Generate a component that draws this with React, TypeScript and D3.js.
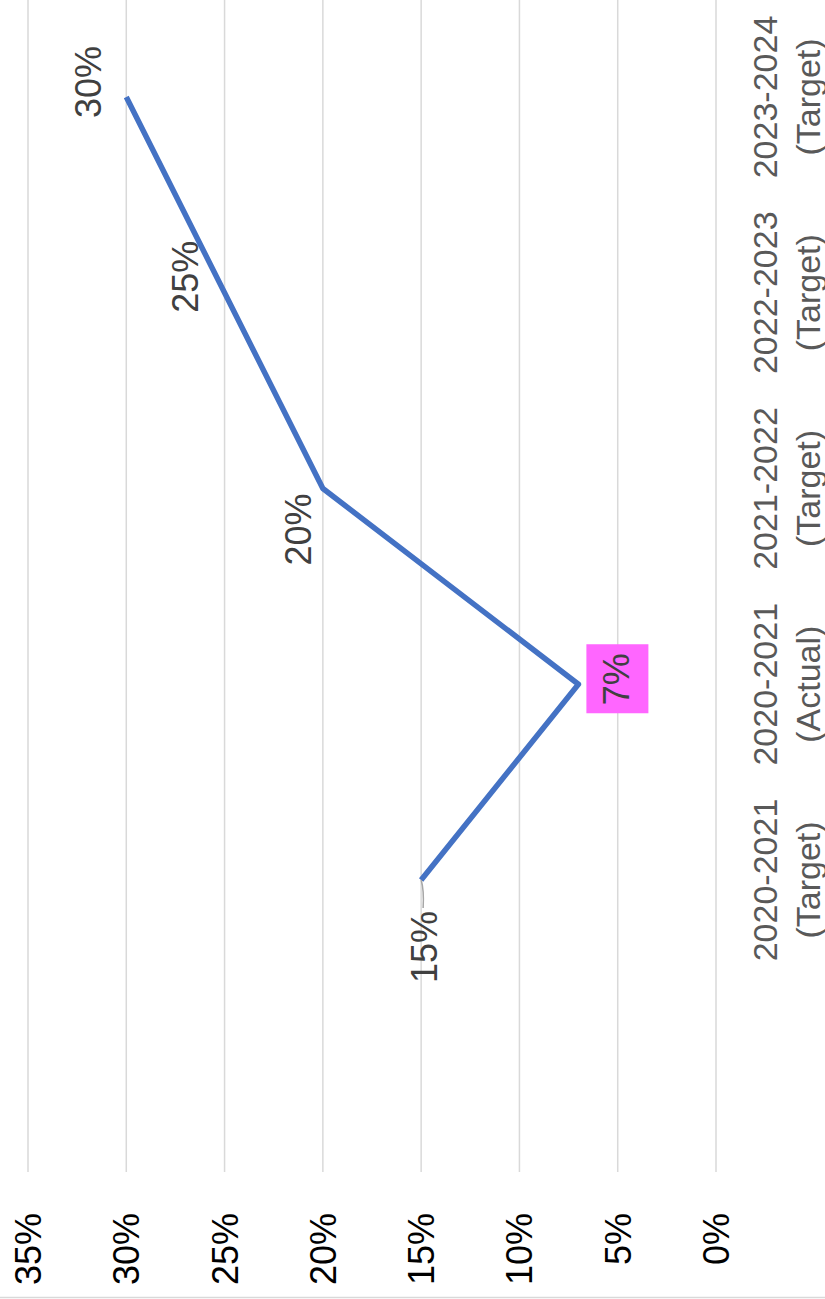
import React from 'react';
import * as d3 from 'd3';

// chart data
const categories = ['2020-2021 (Target)', '2020-2021 (Actual)', '2021-2022 (Target)', '2022-2023 (Target)', '2023-2024 (Target)'];
const categoryLines = [
  ['2020-2021', '(Target)'],
  ['2020-2021', '(Actual)'],
  ['2021-2022', '(Target)'],
  ['2022-2023', '(Target)'],
  ['2023-2024', '(Target)'],
];
const values = [0.15, 0.07, 0.2, 0.25, 0.3];
const valueTicks = [0, 0.05, 0.1, 0.15, 0.2, 0.25, 0.3, 0.35];
const highlighted = '2020-2021 (Actual)';

// where the data labels sit relative to their point (manually moved in the original)
const labelOffsets = [
  { dx: 4, dy: 67 },
  { dx: 39, dy: -5 },
  { dx: -24, dy: 41 },
  { dx: -39, dy: -16 },
  { dx: -37, dy: -15 },
];

const W = 825;
const H = 1299;

const App = () => {
  // the chart is drawn turned a quarter turn: values run right->left, categories bottom->top
  const x = d3.scaleLinear().domain([0, 0.35]).range([716, 28]);
  const y = d3.scalePoint<string>().domain(categories).range([880, 97]);
  const fmt = d3.format('.0%');

  const line = d3.line<number>()
    .x(d => x(d))
    .y((d, i) => y(categories[i]) as number);

  const font = 'Liberation Sans, Arial, sans-serif';

  return (
    <svg width={W} height={H} style={{ position: 'absolute', left: 0, top: 0, background: '#fff' }}>
      <rect width={W} height={H} fill="#fff" />

      {/* gridlines */}
      {valueTicks.map(t => (
        <line key={t} x1={x(t)} x2={x(t)} y1={0} y2={1172} stroke="#d9d9d9" strokeWidth={1.5} />
      ))}
      <line x1={0} x2={W} y1={1297.5} y2={1297.5} stroke="#d9d9d9" strokeWidth={1.5} />

      {/* value axis labels */}
      {valueTicks.map(t => (
        <text
          key={t}
          transform={`translate(${x(t) + 13},1213) rotate(-90)`}
          textAnchor="end"
          fontFamily={font}
          fontSize={36}
          fill="#000"
        >
          {fmt(t)}
        </text>
      ))}

      {/* category labels */}
      {categories.map((c, i) => (
        <text
          key={c}
          transform={`translate(777,${y(c)}) rotate(-90)`}
          textAnchor="middle"
          fontFamily={font}
          fontSize={34}
          fill="#595959"
        >
          <tspan x={0} y={0}>{categoryLines[i][0]}</tspan>
          <tspan x={0} y={43}>{categoryLines[i][1]}</tspan>
        </text>
      ))}

      {/* series line */}
      <path d={line(values) || ''} fill="none" stroke="#4472c4" strokeWidth={5.5} strokeLinejoin="round" />

      {/* leader line for the first label */}
      <path
        d={`M${x(values[0])},${y(categories[0])} Q${x(values[0]) + 3},${(y(categories[0]) as number) + 10} ${x(values[0]) + 2},${(y(categories[0]) as number) + 28}`}
        fill="none"
        stroke="#a6a6a6"
        strokeWidth={1.5}
      />

      {/* data labels */}
      {values.map((v, i) => {
        const cx = x(v) + labelOffsets[i].dx;
        const cy = (y(categories[i]) as number) + labelOffsets[i].dy;
        const hl = categories[i] === highlighted;
        return (
          <g key={i}>
            {hl && <rect x={cx - 31} y={cy - 35} width={62} height={69} fill="#ff66ff" />}
            <text
              transform={`translate(${cx + 12},${cy}) rotate(-90)`}
              textAnchor="middle"
              fontFamily={font}
              fontSize={36}
              fill="#404040"
            >
              {fmt(v)}
            </text>
          </g>
        );
      })}
    </svg>
  );
};

export default App;
